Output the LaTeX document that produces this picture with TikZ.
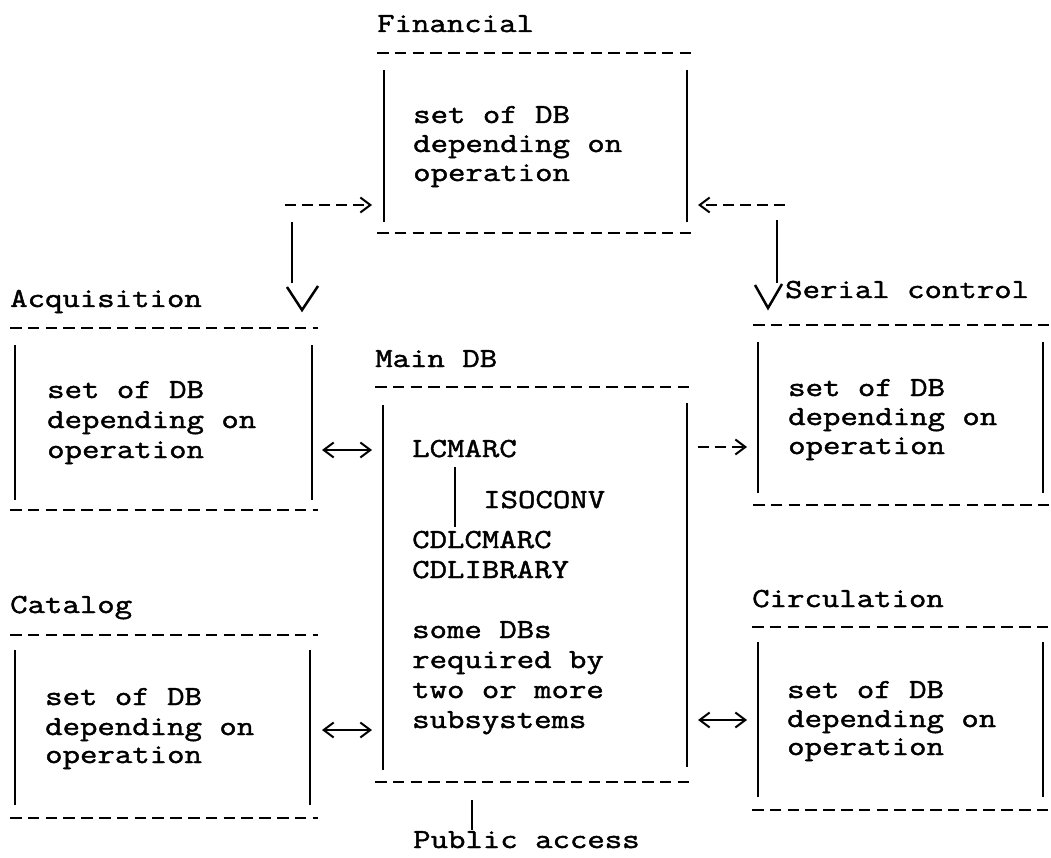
\documentclass[tikz,border=0pt]{standalone}
\usepackage{fontspec}
\setmonofont[FakeStretch=1.23,FakeBold=1.6]{Latin Modern Mono}
\usetikzlibrary{arrows.meta}
\begin{document}
\begin{tikzpicture}[x=1pt,y=-1pt,
  txt/.style={font=\ttfamily\fontsize{27.5}{29}\selectfont, anchor=base west, inner sep=0pt},
  dashline/.style={line width=2pt, dash pattern=on 11.5pt off 6.3pt},
  side/.style={line width=2.5pt},
  vhead/.style={line width=2.5pt, line join=miter},
  tipR/.style={-{Straight Barb[length=10pt,width=15pt,line width=2pt]}},
  tipLR/.style={{Straight Barb[length=10pt,width=15pt,line width=2pt]}-{Straight Barb[length=10pt,width=15pt,line width=2pt]}},
  darrow/.style={line width=2pt, dash pattern=on 11pt off 6pt},
  sarrow/.style={line width=2pt}
]
\fill[white] (0,0) rectangle (1051,858);
\useasboundingbox (0,0) rectangle (1051,858);

% ---------- Financial ----------
\node[txt] (fin-t) at (377,32) {Financial};
\draw[dashline] (377,53) -- (695,53);
\draw[side] (384,70) -- (384,222);
\draw[side] (687,70) -- (687,222);
\draw[dashline] (377,233) -- (695,233);
\node[txt] (fin-1) at (413,123) {set of DB};
\node[txt] (fin-2) at (413,152) {depending on};
\node[txt] (fin-3) at (413,181) {operation};

% ---------- Acquisition ----------
\node[txt] (acq-t) at (10,307) {Acquisition};
\draw[dashline] (10,328) -- (318,328);
\draw[side] (15,345) -- (15,500);
\draw[side] (312,345) -- (312,500);
\draw[dashline] (10,510) -- (318,510);
\node[txt] (acq-1) at (47,398) {set of DB};
\node[txt] (acq-2) at (47,428) {depending on};
\node[txt] (acq-3) at (47,458) {operation};

% ---------- Main DB ----------
\node[txt] (main-t) at (375,367) {Main DB};
\draw[dashline] (375,387) -- (695,387);
\draw[side] (383,405) -- (383,770);
\draw[side] (687,403) -- (687,767);
\draw[dashline] (375,782) -- (695,782);
\node[txt] (lcmarc) at (412,457) {LCMARC};
\node[txt] (isoconv) at (483,508) {ISOCONV};
\node[txt] (cdlcmarc) at (412,548) {CDLCMARC};
\node[txt] (cdlib) at (412,578) {CDLIBRARY};
\node[txt] (main-1) at (412,638) {some DBs};
\node[txt] (main-2) at (412,668) {required by};
\node[txt] (main-3) at (412,698) {two or more};
\node[txt] (main-4) at (412,728) {subsystems};
\coordinate (conv-a) at (455,467);
\coordinate (conv-b) at (455,527);
\draw[side] (conv-a) -- (conv-b);

% ---------- Serial control ----------
\node[txt] (ser-t) at (785,298) {Serial control};
\draw[dashline] (753,325) -- (1060,325);
\draw[side] (758,342) -- (758,493);
\draw[side] (1043,342) -- (1043,493);
\draw[dashline] (753,505) -- (1060,505);
\node[txt] (ser-1) at (788,396) {set of DB};
\node[txt] (ser-2) at (788,425) {depending on};
\node[txt] (ser-3) at (788,454) {operation};

% ---------- Catalog ----------
\node[txt] (cat-t) at (10,613) {Catalog};
\draw[dashline] (10,635) -- (318,635);
\draw[side] (15,650) -- (15,805);
\draw[side] (310,650) -- (310,805);
\draw[dashline] (10,818) -- (318,818);
\node[txt] (cat-1) at (45,705) {set of DB};
\node[txt] (cat-2) at (45,735) {depending on};
\node[txt] (cat-3) at (45,763) {operation};

% ---------- Circulation ----------
\node[txt] (cir-t) at (752,607) {Circulation};
\draw[dashline] (752,627) -- (1060,627);
\draw[side] (758,642) -- (758,797);
\draw[side] (1043,642) -- (1043,797);
\draw[dashline] (752,810) -- (1060,810);
\node[txt] (cir-1) at (787,698) {set of DB};
\node[txt] (cir-2) at (787,727) {depending on};
\node[txt] (cir-3) at (787,755) {operation};

% ---------- Public access ----------
\node[txt] (pub) at (413,848) {Public access};
\coordinate (pub-a) at (472,800);
\coordinate (pub-b) at (472,830);
\draw[side] (pub-a) -- (pub-b);

% ---------- connectors ----------
\coordinate (fl-s) at (285,205); \coordinate (fl-e) at (372,205);
\draw[darrow,tipR] (fl-s) -- (fl-e);
\coordinate (fr-s) at (785,205); \coordinate (fr-e) at (698,205);
\draw[darrow,tipR] (fr-s) -- (fr-e);
\coordinate (vl-a) at (292,222); \coordinate (vl-b) at (292,283);
\draw[side] (vl-a) -- (vl-b);
\coordinate (vl-l) at (287,287); \coordinate (vl-tip) at (302,310); \coordinate (vl-r) at (318,286);
\draw[vhead] (vl-l) -- (vl-tip) -- (vl-r);
\coordinate (vr-a) at (777,220); \coordinate (vr-b) at (777,283);
\draw[side] (vr-a) -- (vr-b);
\coordinate (vr-l) at (755,285); \coordinate (vr-tip) at (768,308); \coordinate (vr-r) at (782,284);
\draw[vhead] (vr-l) -- (vr-tip) -- (vr-r);
\coordinate (aq-l) at (322,450); \coordinate (aq-r) at (372,450);
\draw[sarrow,tipLR] (aq-l) -- (aq-r);
\coordinate (ct-l) at (322,730); \coordinate (ct-r) at (372,730);
\draw[sarrow,tipLR] (ct-l) -- (ct-r);
\coordinate (sr-l) at (698,447); \coordinate (sr-r) at (747,447);
\draw[darrow,tipR] (sr-l) -- (sr-r);
\coordinate (ci-l) at (698,720); \coordinate (ci-r) at (747,720);
\draw[sarrow,tipLR] (ci-l) -- (ci-r);
\end{tikzpicture}
\end{document}
